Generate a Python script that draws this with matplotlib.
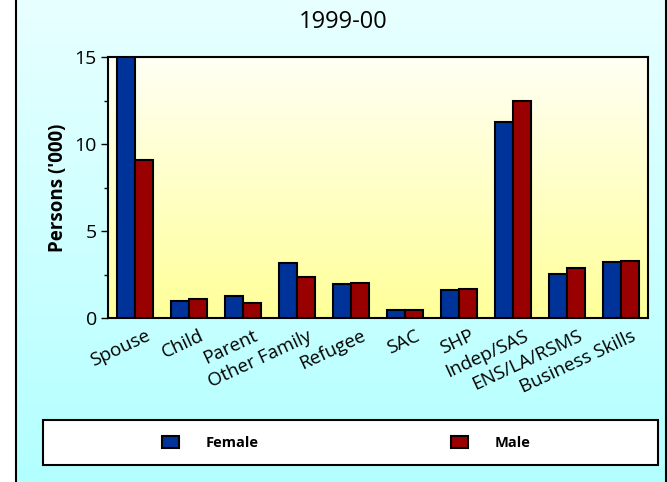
import numpy as np
import matplotlib
matplotlib.use("Agg")
import matplotlib.pyplot as plt
import matplotlib.transforms as mtransforms
from matplotlib.patches import Rectangle, Patch

plt.rcParams['font.family'] = ['Open Sans', 'DejaVu Sans']

categories = ['Spouse', 'Child', 'Parent', 'Other Family', 'Refugee', 'SAC',
              'SHP', 'Indep/SAS', 'ENS/LA/RSMS', 'Business Skills']
female = [15.0, 0.98, 1.25, 3.14, 1.95, 0.45, 1.6, 11.25, 2.53, 3.2]
male = [9.1, 1.07, 0.86, 2.37, 2.0, 0.45, 1.65, 12.47, 2.87, 3.27]
yticks = [0, 5, 10, 15]
title = '1999-00'
ylabel = "Persons ('000)"

W, H = 667, 482
fig = plt.figure(figsize=(W / 100, H / 100), dpi=100)
fig.patch.set_facecolor('white')

# cyan gradient behind everything
bg = fig.add_axes([16 / W, 0, (666 - 16) / W, 1], zorder=-10)
grad = np.linspace(0, 1, 256).reshape(-1, 1)
top_c = np.array([0.91, 1.0, 1.0])
bot_c = np.array([0.70, 1.0, 1.0])
img = top_c * (1 - grad[..., None]) + bot_c * grad[..., None]
bg.imshow(img, aspect='auto', extent=[0, 1, 0, 1])
bg.set_xlim(0, 1)
bg.set_ylim(0, 1)
bg.set_xticks([])
bg.set_yticks([])
for s in bg.spines.values():
    s.set_linewidth(1.5)
    s.set_color('black')
bg.spines['top'].set_visible(False)
bg.spines['bottom'].set_visible(False)

ax = fig.add_axes([108 / W, 1 - 318 / H, (648 - 108) / W, (318 - 57) / H])
x = np.arange(len(categories))
w = 0.33
ax.set_xlim(-0.5, len(categories) - 0.5)
ax.set_ylim(0, 15)

# yellow gradient in the plot area
g2 = np.linspace(0, 1, 256).reshape(-1, 1)
ytop = np.array([1.0, 1.0, 0.96])
ybot = np.array([1.0, 1.0, 0.60])
img2 = ytop * (1 - g2[..., None]) + ybot * g2[..., None]
ax.imshow(img2, aspect='auto', extent=[-0.5, len(categories) - 0.5, 0, 15], zorder=0)

ax.bar(x - w / 2, female, w, color='#003399', edgecolor='black', linewidth=1.5,
       label='Female', zorder=3)
ax.bar(x + w / 2, male, w, color='#990000', edgecolor='black', linewidth=1.5,
       label='Male', zorder=3)

for s in ax.spines.values():
    s.set_linewidth(1.5)
    s.set_color('black')

ax.set_yticks(yticks)
ax.set_yticks([2.5, 7.5, 12.5], minor=True)
ax.tick_params(axis='y', which='major', length=5, width=1, labelsize=14, pad=3)
ax.tick_params(axis='y', which='minor', length=3, width=1)
ax.set_xticks(x)
ax.tick_params(axis='x', length=0, pad=0)
ax.set_xticklabels(categories, rotation=25, ha='right', va='center',
                   rotation_mode='anchor', fontsize=13.5)
offset = mtransforms.ScaledTranslation(14 / 100, -17 / 100, fig.dpi_scale_trans)
for lbl in ax.get_xticklabels():
    lbl.set_transform(lbl.get_transform() + offset)

ax.set_ylabel(ylabel, fontsize=13.5, fontweight='bold', labelpad=5)
fig.text(343 / W, 1 - 22 / H, title, ha='center', va='center', fontsize=17)

# legend box
fig.patches.append(Rectangle((43 / W, 1 - 465 / H), (658 - 43) / W, 45 / H,
                             transform=fig.transFigure, facecolor='white',
                             edgecolor='black', linewidth=1.5, zorder=1))
handles = [Patch(facecolor='#003399', edgecolor='black', linewidth=1.5),
           Patch(facecolor='#990000', edgecolor='black', linewidth=1.5)]
fig.legend(handles, ['Female', 'Male'], loc='center',
           bbox_to_anchor=(346 / W, 1 - 443 / H), ncol=2, frameon=False,
           prop={'size': 10.5, 'weight': 'bold'}, columnspacing=13.2,
           handlelength=1.2, handleheight=0.9, handletextpad=1.8)

fig.savefig('out.png', dpi=100)
